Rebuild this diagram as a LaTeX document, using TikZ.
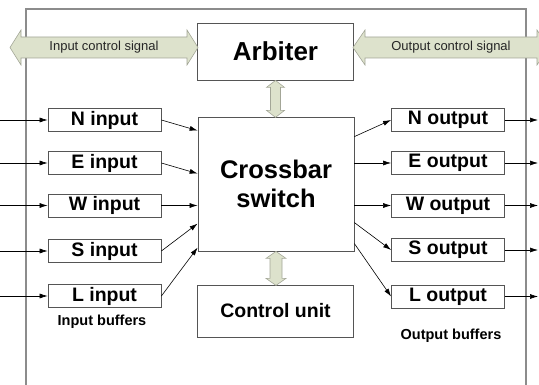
\documentclass[tikz,border=0pt]{standalone}
\usepackage{fontspec}
\setmainfont{Liberation Sans}
\usetikzlibrary{arrows.meta,calc}
\definecolor{framegray}{HTML}{8C8C8C}
\definecolor{boxline}{HTML}{555555}
\definecolor{sigfill}{HTML}{DDE2CC}
\definecolor{sigline}{HTML}{A3A697}
\begin{document}
\begin{tikzpicture}[x=1pt,y=-1pt,
  unit/.style={draw=boxline,line width=0.8pt,fill=white,inner sep=0pt,align=center},
  buf/.style={unit,minimum width=113pt,minimum height=23pt,
    font=\bfseries\fontsize{19.5}{20}\selectfont},
  bigbox/.style={unit,minimum width=156pt},
  siglabel/.style={font=\fontsize{13}{14}\selectfont,text=black!85},
  caption/.style={font=\bfseries\fontsize{14.5}{16}\selectfont},
  sigarrow/.style={fill=sigfill,draw=sigline,line width=0.6pt,line join=miter},
  link/.style={black,line width=0.6pt,-{Latex[length=8pt,width=5pt]}}]
\useasboundingbox (0,0) rectangle (539,385);
\clip (0,0) rectangle (539,385);

% router frame
\draw[framegray,line width=1.4pt] (26,385) -- (26,9) -- (526,9) -- (526,385);

% central units
\node[bigbox,minimum height=57pt,font=\bfseries\fontsize{26}{28}\selectfont]
  (arb) at (275.5,51.5) {Arbiter};
\node[bigbox,minimum height=134pt,font=\bfseries\fontsize{25.5}{29}\selectfont]
  (xbar) at (276,184) {Crossbar\\switch};
\node[bigbox,minimum height=52pt,font=\bfseries\fontsize{19.5}{22}\selectfont]
  (ctl) at (275.5,311) {Control unit};

% control signal block arrows
\coordinate (ictl) at (10,47.5);
\path[sigarrow] (ictl) -- ++(11,-17.5) -- ++(0,7) -- ++(166,0) -- ++(0,-7)
  -- ++(11,17.5) -- ++(-11,17.5) -- ++(0,-7) -- ++(-166,0) -- ++(0,7) -- cycle;
\node[siglabel] (ictltext) at (104,47.5) {Input control signal};

\coordinate (octl) at (353,47.5);
\path[sigarrow] (octl) -- ++(12,-17.5) -- ++(0,7) -- ++(172,0) -- ++(0,-7)
  -- ++(12,17.5) -- ++(-12,17.5) -- ++(0,-7) -- ++(-172,0) -- ++(0,7) -- cycle;
\node[siglabel] (octltext) at (451,47.5) {Output control signal};

% arbiter <-> crossbar
\path[sigarrow] (arb.south) -- ++(9,7) -- ++(-4,0) -- ++(0,23) -- ++(4,0)
  -- ++(-9,7) -- ++(-9,-7) -- ++(4,0) -- ++(0,-23) -- ++(-4,0) -- cycle;
% crossbar <-> control unit
\path[sigarrow] (xbar.south) -- ++(10,7) -- ++(-4,0) -- ++(0,20) -- ++(4,0)
  -- ++(-10,7) -- ++(-10,-7) -- ++(4,0) -- ++(0,-20) -- ++(-4,0) -- cycle;

% input buffers
\node[buf] (nin) at (104.5,120)   {N input};
\node[buf] (ein) at (104.5,163)   {E input};
\node[buf] (win) at (104.5,205.5) {W input};
\node[buf] (sin) at (104.5,251)   {S input};
\node[buf] (lin) at (104.5,296)   {L input};

% output buffers
\node[buf] (nout) at (448,120)   {N output};
\node[buf] (eout) at (448,163)   {E output};
\node[buf] (wout) at (448,205.5) {W output};
\node[buf] (sout) at (448,250)   {S output};
\node[buf] (lout) at (448,296.5) {L output};

% incoming links
\foreach \b in {nin,ein,win,sin,lin}{
  \coordinate (\b-src) at (0,0 |- \b.west);
  \draw[link] (\b-src) -- (\b.west);
}
% outgoing links
\foreach \b in {nout,eout,wout,sout,lout}{
  \coordinate (\b-dst) at (538,0 |- \b.east);
  \draw[link] (\b.east) -- (\b-dst);
}

% inputs into the crossbar
\draw[link] (nin.east) -- ($(xbar.north west)+(0,14)$);
\draw[link] (ein.east) -- ($(xbar.north west)+(0,57)$);
\draw[link] (win.east) -- (xbar.west |- win.east);
\draw[link] (sin.east) -- ($(xbar.north west)+(0,107)$);
\draw[link] (lin.east) -- ($(xbar.north west)+(0,131)$);

% crossbar to outputs
\draw[link] ($(xbar.north east)+(0,20)$) -- (nout.west);
\draw[link] (xbar.east |- eout.west) -- (eout.west);
\draw[link] (xbar.east |- wout.west) -- (wout.west);
\draw[link] ($(xbar.north east)+(0,106)$) -- (sout.west);
\draw[link] ($(xbar.north east)+(0,127)$) -- (lout.west);

% captions
\node[caption] (incap) at (102,322) {Input buffers};
\node[caption] (outcap) at (451,336) {Output buffers};
\end{tikzpicture}
\end{document}
